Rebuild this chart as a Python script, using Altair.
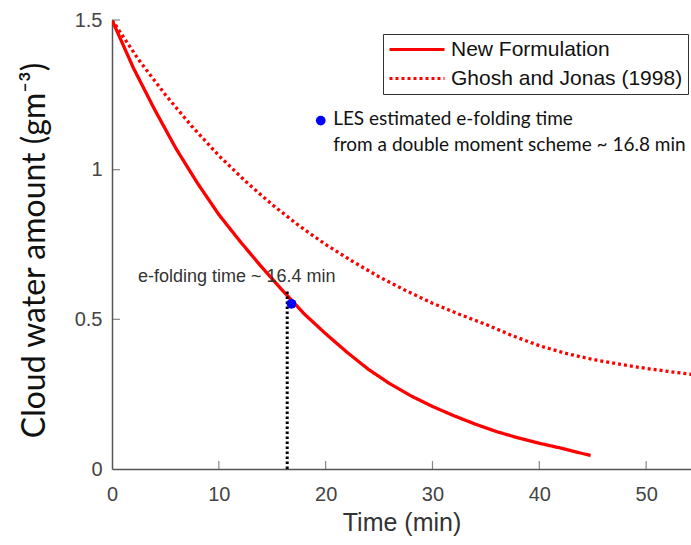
import altair as alt
import pandas as pd

# Cloud water amount (g m^-3) against time (min) for the two formulations
new_time = [0, 2, 4, 6, 8, 10, 12, 14, 16, 18, 20, 22, 24, 26, 28, 30, 32, 34, 36, 38, 40, 42, 44.8]
new_water = [1.5, 1.34, 1.2, 1.07, 0.955, 0.85, 0.76, 0.675, 0.595, 0.518, 0.452, 0.39, 0.333,
             0.285, 0.244, 0.209, 0.178, 0.15, 0.125, 0.104, 0.086, 0.07, 0.045]

gj_time = [0, 2.5, 5, 7.5, 10, 12.5, 15, 17.5, 20, 22.5, 25, 27.5, 30, 32.5, 35, 37.5, 40,
           42.5, 45, 47.5, 50, 52.5, 55]
gj_water = [1.5, 1.367, 1.25, 1.144, 1.047, 0.961, 0.883, 0.813, 0.75, 0.694, 0.642, 0.596,
            0.554, 0.517, 0.483, 0.445, 0.412, 0.386, 0.366, 0.35, 0.336, 0.324, 0.313]

series_names = ["New Formulation", "Ghosh and Jonas (1998)"]
x_ticks = [0, 10, 20, 30, 40, 50]
y_ticks = [0, 0.5, 1, 1.5]

# e-folding markers
efold_time = 16.4
efold_top = 0.6
les_time = 16.8
les_water = 0.552

lines = pd.DataFrame({
    "time": new_time + gj_time,
    "water": new_water + gj_water,
    "series": [series_names[0]] * len(new_time) + [series_names[1]] * len(gj_time),
})

x_scale = alt.Scale(domain=[0, 54.2], nice=False, zero=False)
y_scale = alt.Scale(domain=[0, 1.5], nice=False)

x_axis = alt.Axis(
    values=x_ticks, title="Time (min)", grid=False, tickSize=0, labelPadding=15, labelFlush=False,
    labelFont="Liberation Sans", labelFontSize=20, labelColor="#444444",
    titleFont="Liberation Sans", titleFontSize=25, titleFontWeight="normal", titleColor="#333333",
    titleY=53, titleBaseline="middle", domainColor="#555555", domainWidth=1.5,
)
y_axis = alt.Axis(
    values=y_ticks, title="Cloud water amount (gm\u207b\u00b3)", grid=False, tickSize=0,
    labelPadding=10, labelFlush=False, labelExpr="'' + datum.value",
    labelFont="Liberation Sans", labelFontSize=20, labelColor="#444444",
    titleFont="Lato", titleFontSize=32, titleFontWeight="normal", titleColor="#111111",
    titleAngle=270, titleX=-78, titleY=230, titleAlign="center", titleBaseline="middle",
    domainColor="#555555", domainWidth=1.5,
)

legend = alt.Legend(
    title=None, orient="none", legendX=271, legendY=14, direction="vertical",
    strokeColor="#333333", fillColor="white", padding=5, symbolType="stroke",
    symbolSize=3025, symbolStrokeWidth=3, labelFont="Liberation Sans", labelFontSize=21,
    labelColor="#111111", labelLimit=400, labelOffset=5, rowPadding=7, clipHeight=21,
)

curves = alt.Chart(lines).mark_line(strokeWidth=3.3, clip=True).encode(
    x=alt.X("time:Q", scale=x_scale, axis=x_axis),
    y=alt.Y("water:Q", scale=y_scale, axis=y_axis),
    color=alt.Color("series:N", scale=alt.Scale(domain=series_names, range=["#ff0000", "#ff0000"]),
                    legend=legend),
    strokeDash=alt.StrokeDash("series:N", scale=alt.Scale(domain=series_names, range=[[1, 0], [3, 3]]),
                              legend=legend),
)

efold_rule = alt.Chart(pd.DataFrame({"time": [efold_time], "water": [0], "top": [efold_top]})).mark_rule(
    color="black", strokeWidth=3, strokeDash=[2.5, 2.5]
).encode(x="time:Q", y="water:Q", y2="top:Q")

les_point = alt.Chart(pd.DataFrame({"time": [les_time], "water": [les_water]})).mark_point(
    filled=True, shape="circle", size=95, color="#0000ff", opacity=1
).encode(x="time:Q", y="water:Q")

# Inward-facing tick marks on both axes
x_tick_marks = alt.Chart(pd.DataFrame({"time": x_ticks[1:], "water": [0] * 5})).mark_tick(
    orient="vertical", size=8, thickness=1.2, yOffset=-4, color="#555555"
).encode(x="time:Q", y="water:Q")
y_tick_marks = alt.Chart(pd.DataFrame({"time": [0] * 3, "water": y_ticks[1:]})).mark_tick(
    orient="horizontal", size=8, thickness=1.2, xOffset=4, color="#555555"
).encode(x="time:Q", y="water:Q")

efold_label = alt.Chart(pd.DataFrame({"time": [2.43], "water": [0.641],
                                      "label": ["e-folding time ~ 16.4 min"]})).mark_text(
    align="left", baseline="middle", font="Liberation Sans", fontSize=18, color="#333333"
).encode(x="time:Q", y="water:Q", text="label:N")

les_key = alt.Chart(pd.DataFrame({"time": [19.54], "water": [1.164]})).mark_point(
    filled=True, shape="circle", size=95, color="#0000ff", opacity=1
).encode(x="time:Q", y="water:Q")

les_label = alt.Chart(pd.DataFrame({
    "time": [20.7, 20.7],
    "water": [1.17, 1.083],
    "label": ["LES estimated e-folding time", "from a double moment scheme ~ 16.8 min"],
})).mark_text(
    align="left", baseline="middle", font="Lato", fontSize=19, color="#111111"
).encode(x="time:Q", y="water:Q", text="label:N")

chart = alt.layer(
    curves, efold_rule, les_point, x_tick_marks, y_tick_marks, efold_label, les_key, les_label
).properties(
    width=579, height=449,
    autosize=alt.AutoSizeParams(type="none"),
    padding={"left": 112, "top": 20, "right": 0, "bottom": 76},
    background="white",
).configure_view(strokeWidth=0)

chart.save("out.html", embed_options={"renderer": "svg", "actions": False})
